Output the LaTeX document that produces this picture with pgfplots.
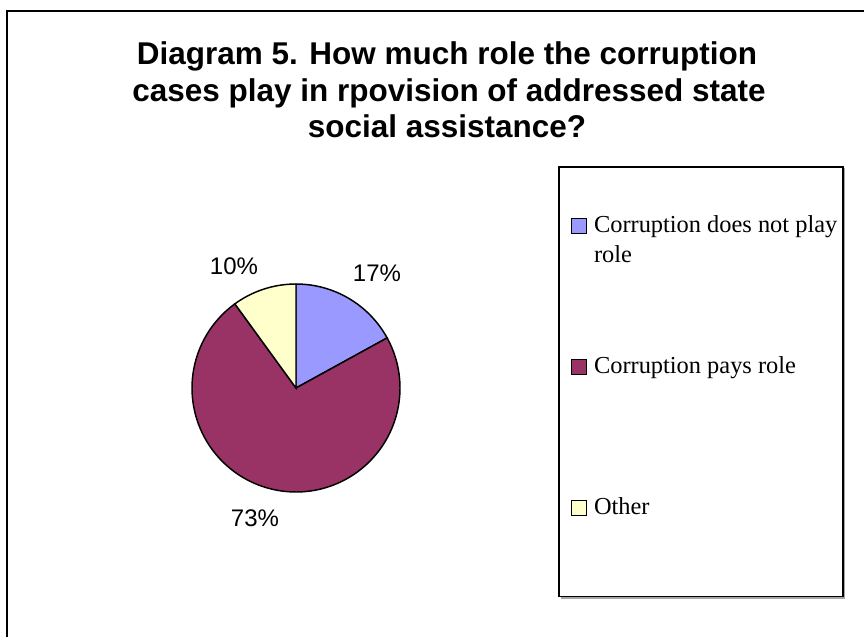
\documentclass[border=0pt]{standalone}
\usepackage{fontspec}
\setmainfont{Liberation Serif}
\newfontfamily\arialfont{Liberation Sans}
\usepackage{pgfplots}
\usepackage{pgfplotstable}
\pgfplotsset{compat=1.18}
\definecolor{pblue}{HTML}{9999FF}
\definecolor{pmaroon}{HTML}{993366}
\definecolor{pyellow}{HTML}{FFFFCC}
\pgfplotstableread{
label value
A 17
B 73
C 10
}\piedata
\pgfplotstablegetelem{0}{value}\of\piedata \let\va\pgfplotsretval
\pgfplotstablegetelem{1}{value}\of\piedata \let\vb\pgfplotsretval
\pgfplotstablegetelem{2}{value}\of\piedata \let\vc\pgfplotsretval
\pgfmathsetmacro\aA{90}
\pgfmathsetmacro\aB{\aA-3.6*\va}
\pgfmathsetmacro\aC{\aB-3.6*\vb}
\pgfmathsetmacro\aD{\aC-3.6*\vc}
\begin{document}
\begin{tikzpicture}
\begin{axis}[
  scale only axis, width=648pt, height=477pt,
  xmin=0, xmax=864, ymin=0, ymax=636,
  hide axis, clip=false,
  legend image code/.code={\draw[#1, draw=black, line width=0.8pt] (0pt,-0.6pt) rectangle (11.25pt,10.65pt);},
  legend style={draw=none, fill=none, at={(0.6609,0.6682)}, anchor=north west,
    inner sep=0pt, row sep=88.5pt, column sep=5pt,
    cells={anchor=base west},
    nodes={inner sep=0pt, font=\fontsize{18.3}{22.5}\selectfont}},
]
\addplot[fill=pblue, draw=black, line width=1.1pt, domain=\aB:\aA, samples=40] ({296+104*cos(x)},{248+104*sin(x)}) -- (axis cs:296,248) -- cycle;
\addlegendentry{\parbox[t]{190pt}{\strut Corruption does not play\\role\strut}}
\addplot[fill=pmaroon, draw=black, line width=1.1pt, domain=\aC:\aB, samples=150] ({296+104*cos(x)},{248+104*sin(x)}) -- (axis cs:296,248) -- cycle;
\addlegendentry{\parbox[t]{190pt}{\strut Corruption pays role\\\strut}}
\addplot[fill=pyellow, draw=black, line width=1.1pt, domain=\aD:\aC, samples=30] ({296+104*cos(x)},{248+104*sin(x)}) -- (axis cs:296,248) -- cycle;
\addlegendentry{\parbox[t]{190pt}{\strut Other\\\strut}}
% legend frame
\draw[gray!70, line width=1pt] (axis cs:560.5,38) -- (axis cs:844,38) -- (axis cs:844,468);
\draw[black, line width=0.8pt] (axis cs:559,39.3) rectangle (axis cs:843,469);
% outer frame
\draw[black, line width=1.3pt] (axis cs:7,-5) -- (axis cs:7,625) -- (axis cs:870,625);
% title
\begin{scope}[every node/.style={font=\arialfont\bfseries\fontsize{23.6}{28}\selectfont, anchor=base}]
\node at (axis cs:447,571) {Diagram 5. How much role the corruption};
\node at (axis cs:449,534.3) {cases play in rpovision of addressed state};
\node at (axis cs:447,498) {social assistance?};
\end{scope}
% percentage labels
\begin{scope}[every node/.style={font=\arialfont\fontsize{18}{21}\selectfont, anchor=base}]
\node at (axis cs:377,354) {17\%};
\node at (axis cs:255,109.3) {73\%};
\node at (axis cs:234,361) {10\%};
\end{scope}
\end{axis}
\pgfresetboundingbox
\path[use as bounding box] (0,0) rectangle (648pt,477pt);
\end{tikzpicture}
\end{document}
